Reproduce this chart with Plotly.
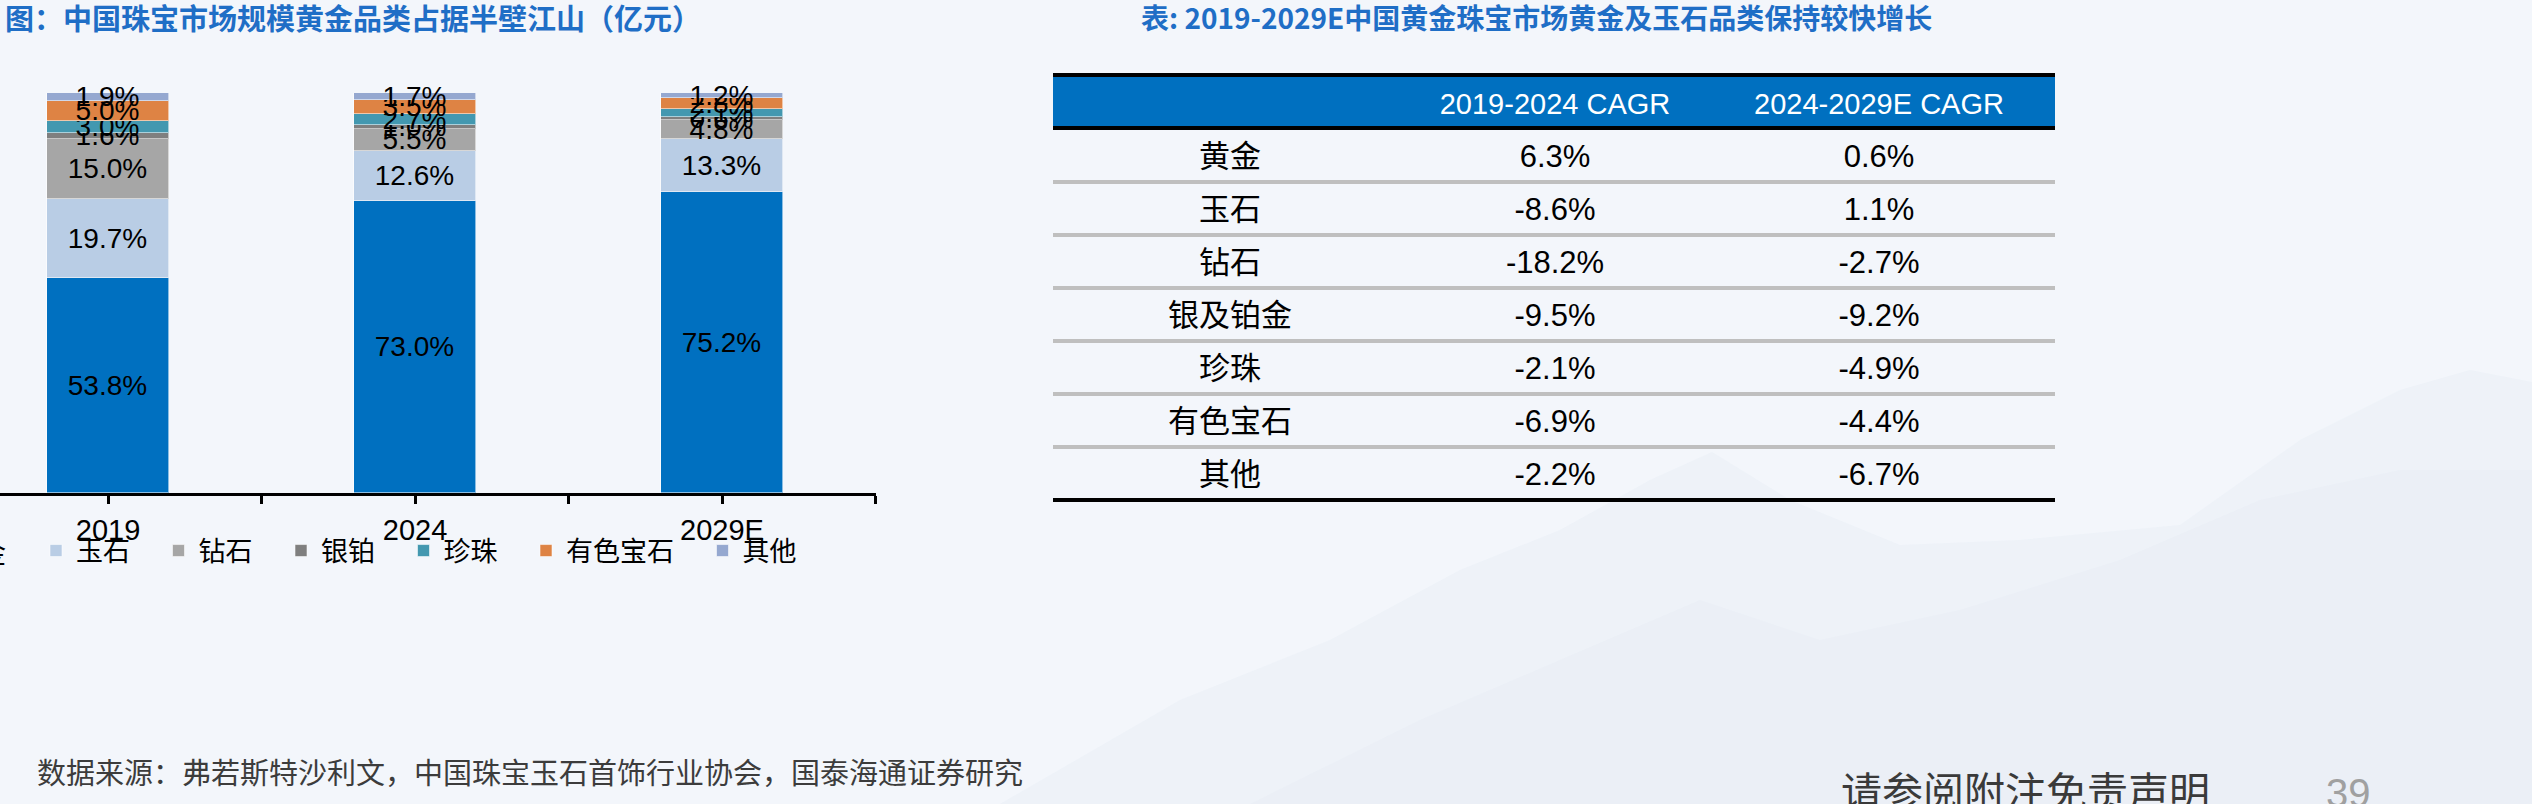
import plotly.graph_objects as go

W, H = 2532, 804

# ---------------- data ----------------
categories = ["2019", "2024", "2029E"]
gold = [53.8, 73.0, 75.2]
jade = [19.7, 12.6, 13.3]
diamond = [15.0, 5.5, 4.8]
silver_pt = [1.6, 1.0, 0.6]
pearl = [3.0, 2.7, 2.1]
colored_gem = [5.0, 3.5, 2.8]
others = [1.9, 1.7, 1.2]

series_names = ["黄金", "玉石", "钻石", "银铂", "珍珠", "有色宝石", "其他"]
series_values = [gold, jade, diamond, silver_pt, pearl, colored_gem, others]
series_colors = ["#0070C0", "#B9CDE5", "#A6A6A6", "#7F7F7F", "#4398B0", "#DE8344", "#95A8D0"]

table_header = ["", "2019-2024 CAGR", "2024-2029E CAGR"]
table_rows = ["黄金", "玉石", "钻石", "银及铂金", "珍珠", "有色宝石", "其他"]
cagr_2019_2024 = [6.3, -8.6, -18.2, -9.5, -2.1, -6.9, -2.2]
cagr_2024_2029e = [0.6, 1.1, -2.7, -9.2, -4.9, -4.4, -6.7]

title_left = "图：中国珠宝市场规模黄金品类占据半壁江山（亿元）"
title_right = "表: 2019-2029E中国黄金珠宝市场黄金及玉石品类保持较快增长"
source_text = "数据来源：弗若斯特沙利文，中国珠宝玉石首饰行业协会，国泰海通证券研究"
disclaimer = "请参阅附注免责声明"
page_no = "39"

# ---------------- helpers ----------------
CJK = "Noto Sans CJK SC"
LAT = "Liberation Sans, Arial, sans-serif"


def fx(p):
    return p / W


def fy(p):
    return 1 - p / H


fig = go.Figure()

x_pos = [2 * i for i in range(len(categories))]
for i, (name, vals, col) in enumerate(zip(series_names, series_values, series_colors)):
    fig.add_trace(go.Bar(
        x=x_pos, y=vals, name=name,
        marker=dict(color=col, line=dict(color="rgba(255,255,255,0.55)", width=1)),
        width=0.8,
        text=[f"{v:.1f}%" for v in vals],
        textposition="inside", insidetextanchor="middle", textangle=0,
        insidetextfont=dict(family=LAT, size=28, color="black"),
        cliponaxis=False,
        legend="legend" if i == 0 else f"legend{i+1}",
        showlegend=(i != 0),
        hoverinfo="skip",
    ))

# ---------------- table ----------------
tbl_left, tbl_right = 1053, 2055
hdr_top, hdr_bot = 77, 129
row_h = 53
n_rows = len(table_rows)
text_shift = 7  # table text sits a little lower than the cell tops

fig.add_trace(go.Table(
    domain=dict(x=[fx(tbl_left), fx(tbl_right)],
                y=[fy(hdr_bot + row_h * n_rows + 40), fy(hdr_top + text_shift)]),
    columnwidth=[354, 296, 352],
    header=dict(
        values=table_header,
        fill_color="rgba(0,0,0,0)",
        line=dict(color="rgba(0,0,0,0)", width=0),
        font=dict(family=LAT, size=29, color="white"),
        align="center", height=hdr_bot - hdr_top,
    ),
    cells=dict(
        values=[table_rows,
                [f"{v:.1f}%" for v in cagr_2019_2024],
                [f"{v:.1f}%" for v in cagr_2024_2029e]],
        fill_color="rgba(0,0,0,0)",
        line=dict(color="rgba(0,0,0,0)", width=0),
        font=dict(family=[CJK, LAT, LAT], size=[31, 31, 31], color="black"),
        align="center", height=row_h,
    ),
))

# ---------------- very faint landscape in the slide background ----------------
mountain_far = [(1000, 804), (1180, 700), (1330, 640), (1460, 570), (1560, 530), (1650, 480),
                (1712, 452), (1790, 500), (1900, 545), (2020, 540), (2180, 525), (2300, 440),
                (2400, 390), (2470, 370), (2532, 382), (2532, 804)]
mountain_near = [(1250, 804), (1420, 720), (1560, 660), (1700, 600), (1820, 640), (1960, 610),
                 (2120, 560), (2260, 500), (2400, 470), (2532, 470), (2532, 804)]


def to_path(pts):
    return "M " + " L ".join(f"{fx(x):.5f},{fy(y):.5f}" for x, y in pts) + " Z"


shapes = [
    dict(type="path", xref="paper", yref="paper", layer="below", path=to_path(mountain_far),
         fillcolor="rgba(214,223,236,0.16)", line=dict(width=0)),
    dict(type="path", xref="paper", yref="paper", layer="below", path=to_path(mountain_near),
         fillcolor="rgba(214,223,236,0.12)", line=dict(width=0)),
    dict(type="rect", xref="paper", yref="paper", layer="below",
         x0=fx(tbl_left), x1=fx(tbl_right), y0=fy(hdr_bot), y1=fy(hdr_top),
         fillcolor="#0070C0", line=dict(width=0)),
]
# thick black rules around header and at bottom, grey rules between rows
rules = [(hdr_top - 2, "black"), (hdr_bot - 1, "black")]
for k in range(1, n_rows):
    rules.append((hdr_bot + row_h * k, "#BFBFBF"))
rules.append((hdr_bot + row_h * n_rows, "black"))
for ypx, colr in rules:
    shapes.append(dict(type="line", xref="paper", yref="paper",
                       x0=fx(tbl_left), x1=fx(tbl_right), y0=fy(ypx), y1=fy(ypx),
                       line=dict(color=colr, width=4)))

# ---------------- legends (one per series, laid out in a row) ----------------
legend_font = 27
legend_y = 551
item_gap = 68.5
text_start = 73 - (len(series_names[0]) * legend_font + item_gap)
legends = {}
annotations = []
for i, name in enumerate(series_names):
    key = "legend" if i == 0 else f"legend{i+1}"
    if i == 0:
        # first entry runs off the left edge of the slide; only its tail shows
        annotations.append(dict(text=name, x=fx(text_start + len(name) * legend_font + 3),
                                y=fy(legend_y), xanchor="right", yanchor="middle",
                                font=dict(family=CJK, size=legend_font, color="black")))
    else:
        legends[key] = dict(
            x=fx(text_start - 37), xanchor="left", y=fy(legend_y), yanchor="middle",
            orientation="h", bgcolor="rgba(0,0,0,0)", borderwidth=0,
            font=dict(family=CJK, size=legend_font, color="black"),
            itemwidth=30,
        )
    text_start += len(name) * legend_font + item_gap

# ---------------- annotations ----------------
annotations += [
    dict(text=title_left, x=fx(3), y=fy(17), xanchor="left", yanchor="middle",
         font=dict(family=CJK, size=29, color="#1F6EC6", weight="bold")),
    dict(text=title_right, x=fx(1536), y=fy(17), xanchor="center", yanchor="middle",
         font=dict(family=CJK, size=28, color="#1F6EC6", weight="bold")),
    dict(text=source_text, x=fx(35), y=fy(771), xanchor="left", yanchor="middle",
         font=dict(family=CJK, size=29, color="#3C3C3C")),
    dict(text=disclaimer, x=fx(1839), y=fy(789), xanchor="left", yanchor="middle",
         font=dict(family=CJK, size=41, color="#3A3A3A")),
    dict(text=page_no, x=fx(2324), y=fy(793), xanchor="left", yanchor="middle",
         font=dict(family=LAT, size=40, color="#A0A0A0")),
]
for a in annotations:
    a.update(xref="paper", yref="paper", showarrow=False)

unit = 153.5
fig.update_layout(
    width=W, height=H,
    margin=dict(l=0, r=0, t=0, b=0, pad=0, autoexpand=False),
    paper_bgcolor="#F3F6FB", plot_bgcolor="rgba(0,0,0,0)",
    barmode="stack", bargap=0,
    uniformtext=dict(mode="show", minsize=28),
    xaxis=dict(
        domain=[0, fx(876)],
        range=[-108 / unit, (876 - 108) / unit],
        tickmode="array",
        tickvals=list(range(0, 2 * len(categories))),
        ticktext=[categories[i // 2] if i % 2 == 0 else "" for i in range(2 * len(categories))],
        showline=True, linecolor="black", linewidth=3,
        ticks="outside", ticklen=8, tickwidth=2.5, tickcolor="black",
        tickfont=dict(family=LAT, size=29, color="black"),
        ticklabelstandoff=1,
        showgrid=False, zeroline=False, fixedrange=True,
    ),
    yaxis=dict(domain=[fy(493), fy(93)], range=[0, 100], visible=False, fixedrange=True),
    shapes=shapes,
    annotations=annotations,
    **legends,
)

fig.write_html("out.html")
